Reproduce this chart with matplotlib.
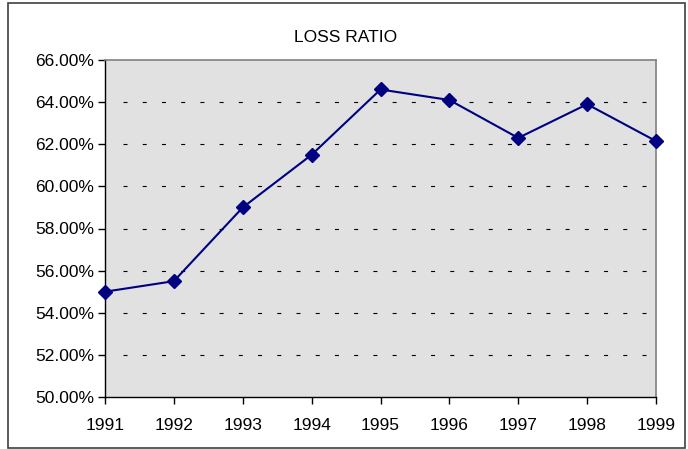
import numpy as np
import matplotlib.pyplot as plt
from matplotlib.ticker import FuncFormatter
from matplotlib.patches import Rectangle

years = [1991, 1992, 1993, 1994, 1995, 1996, 1997, 1998, 1999]
loss_ratio = [55.0, 55.5, 59.0, 61.5, 64.6, 64.1, 62.3, 63.9, 62.15]
y_ticks = [50, 52, 54, 56, 58, 60, 62, 64, 66]

plt.rcParams['font.family'] = ['Liberation Sans', 'DejaVu Sans']

fig = plt.figure(figsize=(6.88, 4.49), dpi=100)
fig.patches.append(Rectangle((8 / 688, 1 / 449), 677 / 688, 445 / 449, transform=fig.transFigure,
                             fill=False, edgecolor='#404040', linewidth=1.2))

ax = fig.add_axes([105 / 688, 1 - 397 / 449, 551 / 688, 337 / 449])
ax.set_facecolor('#e1e1e1')

ax.plot(years, loss_ratio, color='#000080', linewidth=1.5, marker='D', markersize=7.5,
        markerfacecolor='#000080', markeredgecolor='#000080', zorder=3, clip_on=False)

ax.set_xlim(1991, 1999)
ax.set_ylim(50, 66)
ax.set_xticks(years)
ax.set_yticks(y_ticks)
ax.yaxis.set_major_formatter(FuncFormatter(lambda v, p: f'{v:.2f}%'))

for v in y_ticks[1:-1]:
    ax.axhline(v, color='black', linewidth=0.8, linestyle=(0, (3.6, 13.7)), xmin=0.033, xmax=0.995,
               zorder=1)

for s in ['top', 'right']:
    ax.spines[s].set_color('#808080')
    ax.spines[s].set_linewidth(1.2)
for s in ['left', 'bottom']:
    ax.spines[s].set_color('black')
    ax.spines[s].set_linewidth(1.0)

ax.tick_params(axis='both', direction='out', length=5, width=1, labelsize=12.5, colors='black')
ax.tick_params(axis='x', pad=10)
ax.tick_params(axis='y', pad=3)

fig.text(346 / 688, 1 - 37 / 449, 'LOSS RATIO', ha='center', va='center', fontsize=12.5)

fig.savefig('out.png', dpi=100)
